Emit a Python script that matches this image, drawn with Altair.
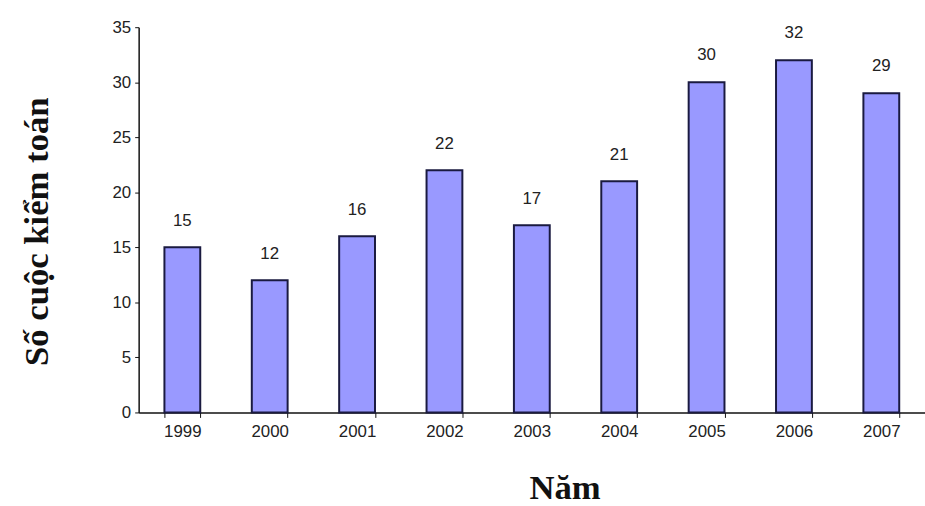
import altair as alt
import pandas as pd

years = ["1999", "2000", "2001", "2002", "2003", "2004", "2005", "2006", "2007"]
counts = [15, 12, 16, 22, 17, 21, 30, 32, 29]

df = pd.DataFrame({"Năm": years, "Số": counts})

x = alt.X(
    "Năm:N",
    sort=years,
    scale=alt.Scale(paddingInner=0.59, paddingOuter=0.295),
    axis=alt.Axis(
        title="Năm",
        labelAngle=0,
        labelFont="Liberation Sans",
        labelFontSize=17,
        labelColor="#222222",
        labelPadding=6,
        tickBand="extent",
        tickSize=5,
        tickColor="#111111",
        domainColor="#111111",
        domainWidth=1.5,
        titleFont="Liberation Serif",
        titleFontWeight="bold",
        titleFontSize=35,
        titleColor="#111111",
        titleX=430,
        titleY=87,
        titleAlign="center",
        titleBaseline="alphabetic",
    ),
)

y = alt.Y(
    "Số:Q",
    scale=alt.Scale(domain=[0, 35]),
    axis=alt.Axis(
        title="Số cuộc kiểm toán",
        values=[0, 5, 10, 15, 20, 25, 30, 35],
        grid=False,
        labelFont="Liberation Sans",
        labelFontSize=17,
        labelColor="#222222",
        labelPadding=4,
        tickSize=4,
        tickColor="#111111",
        domainColor="#111111",
        domainWidth=1.5,
        titleFont="Liberation Serif",
        titleFontWeight="bold",
        titleFontSize=35,
        titleColor="#111111",
        titleX=-103,
        titleY=206,
        titleAngle=-90,
        titleAlign="center",
        titleBaseline="middle",
    ),
)

bars = alt.Chart(df).mark_bar(
    color="#9999FF", stroke="#1a1a40", strokeWidth=2
).encode(x=x, y=y)

labels = alt.Chart(df).mark_text(
    baseline="bottom", dy=-18, font="Liberation Sans", fontSize=17, color="#222222"
).encode(x=alt.X("Năm:N", sort=years), y="Số:Q", text="Số:Q")

chart = (
    alt.layer(bars, labels)
    .properties(
        width=794,
        height=389,
        autosize=alt.AutoSizeParams(type="none"),
        padding={"left": 140, "top": 25, "right": 0, "bottom": 92},
        background="white",
    )
    .configure_view(stroke=None)
)

chart.save("out.html", embed_options={"renderer": "svg", "actions": False})
